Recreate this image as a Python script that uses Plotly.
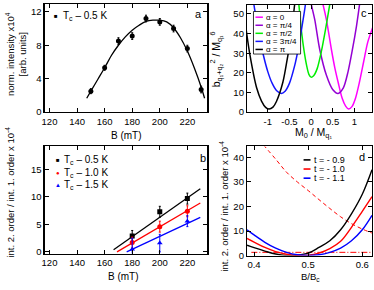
import plotly.graph_objects as go

W, H = 374, 290
FONT = "Liberation Sans, Arial, sans-serif"

# ---------------- data ----------------
# panel a
a_B = [150, 160, 170, 180, 190, 200, 210, 220, 230]
a_I = [2.5, 5.3, 8.5, 9.1, 11.2, 10.8, 10.0, 7.6, 2.7]
a_err = [0.3, 0.3, 0.4, 0.4, 0.4, 0.4, 0.4, 0.4, 0.4]
a_fit_B = [147, 150, 155, 160, 165, 170, 175, 180, 185, 190, 195, 200, 205, 210, 215, 220, 225, 230, 232.5]
a_fit_I = [1.65, 2.5, 3.9, 5.3, 6.8, 8.0, 9.0, 9.8, 10.4, 10.85, 11.0, 11.0, 10.8, 10.1, 8.9, 7.3, 5.3, 3.0, 1.65]

# panel b
b_B = [180, 200, 220]
b_05 = [2.9, 7.3, 9.7]
b_05_err = [1.0, 1.0, 1.0]
b_10 = [1.7, 4.6, 7.4]
b_10_err = [1.0, 1.0, 1.0]
b_15 = [0.5, 1.6, 5.6]
b_15_err = [2.0, 1.6, 1.0]
b_fit_B_05 = [166.5, 229.4]
b_fit_05 = [0.4, 11.5]
b_fit_B_10 = [169.0, 229.4]
b_fit_10 = [0.0, 8.9]
b_fit_B_15 = [176.0, 229.4]
b_fit_15 = [0.0, 6.3]
b_labels = ["T<sub>c</sub> \u2013 0.5 K", "T<sub>c</sub> \u2013 1.0 K", "T<sub>c</sub> \u2013 1.5 K"]

# panel c
c_labels = ["\u03b1 = 0", "\u03b1 = \u03c0/4", "\u03b1 = \u03c0/2", "\u03b1 = 3\u03c0/4", "\u03b1 = \u03c0"]
c0_x = [0.25, 0.28, 0.356, 0.47, 0.55, 0.625, 0.72, 0.8, 0.87, 0.95, 1.03, 1.12, 1.22, 1.31, 1.44]
c0_y = [57, 54.5, 47, 32, 22.5, 15.3, 7.0, 3.0, 1.5, 2.9, 7.2, 15.3, 26.0, 35.5, 44.0]
c1_x = [-0.02, 0.01, 0.087, 0.2, 0.356, 0.5, 0.625, 0.75, 0.855, 0.95, 1.05, 1.12, 1.15]
c1_y = [58, 54.5, 47, 32, 18.7, 11.5, 9.5, 12.5, 20.5, 31.0, 43.7, 54.5, 59]
c2_x = [-0.32, -0.28, -0.22, -0.16, -0.1, -0.05, 0.0, 0.06, 0.14, 0.24, 0.33, 0.43, 0.46]
c2_y = [63.5, 54.5, 41, 31, 23.5, 19.2, 17.8, 18.5, 22.0, 31, 41.5, 54.5, 58.5]
c3_x = [-1.36, -1.3, -1.2, -1.1, -1.0, -0.9, -0.8, -0.685, -0.6, -0.5, -0.38, -0.3, -0.2, -0.14, -0.1]
c3_y = [60.5, 51.9, 39.2, 28.8, 20.6, 14.7, 11.0, 9.5, 10.6, 14.6, 23.5, 31.7, 44.8, 53.2, 60.4]
c4_x = [-1.52, -1.49, -1.41, -1.26, -1.145, -1.05, -0.97, -0.88, -0.8, -0.65, -0.55, -0.45, -0.38, -0.35]
c4_y = [45.5, 40.3, 28.7, 12.5, 5.6, 2.4, 1.5, 2.5, 5.4, 15.3, 27, 40.5, 54.5, 58.5]

# panel d
d_labels = ["t = - 0.9", "t = - 1.0", "t = - 1.1"]
d_x = [0.387, 0.40, 0.42, 0.44, 0.46, 0.48, 0.50, 0.52, 0.54, 0.56, 0.58, 0.60, 0.618]
d_09 = [4.2, 3.2, 1.8, 0.6, 0.05, 0.2, 1.0, 3.3, 6.0, 10.5, 17.0, 25.0, 35.0]
d_10 = [7.0, 5.5, 3.3, 1.6, 0.5, 0.05, 0.1, 1.0, 2.8, 5.8, 11.5, 18.0, 24.0]
d_11 = [10.5, 8.4, 5.4, 3.0, 1.3, 0.3, 0.0, 0.3, 1.3, 3.0, 6.0, 10.5, 16.4]
d_dash_x = [0.417, 0.44, 0.46, 0.48, 0.50, 0.52, 0.54, 0.56, 0.58, 0.60, 0.62]
d_dash_y = [45.2, 39.3, 34.0, 30.0, 26.5, 22.8, 19.2, 15.8, 13.0, 10.8, 9.0]
d_dd_x = [0.395, 0.62]
d_dd_y = [1.3, 1.3]

# ---------------- styles ----------------
MAG, PUR, GRN, BLU, BLK, RED = "#ff00ff", "#9400d3", "#00ee00", "#1414ff", "#000000", "#ff0000"
BBLUE = "#0000ff"

def px(x):
    return x / W

def py(y):
    return 1 - y / H

fig = go.Figure()

# panel a
fig.add_trace(go.Scatter(x=a_fit_B, y=a_fit_I, mode="lines", line=dict(color=BLK, width=1.3, shape="spline"),
                         xaxis="x", yaxis="y", showlegend=False))
fig.add_trace(go.Scatter(x=a_B, y=a_I, mode="markers", marker=dict(color=BLK, size=5, symbol="circle"),
                         error_y=dict(type="data", array=a_err, color=BLK, thickness=1, width=1),
                         xaxis="x", yaxis="y", showlegend=False))

# panel b
for fx, fy, col in [(b_fit_B_05, b_fit_05, BLK), (b_fit_B_10, b_fit_10, RED), (b_fit_B_15, b_fit_15, BBLUE)]:
    fig.add_trace(go.Scatter(x=fx, y=fy, mode="lines", line=dict(color=col, width=1.3),
                             xaxis="x2", yaxis="y2", showlegend=False))
for yy, ee, col, sym in [(b_05, b_05_err, BLK, "square"), (b_10, b_10_err, RED, "circle"),
                         (b_15, b_15_err, BBLUE, "triangle-up")]:
    fig.add_trace(go.Scatter(x=b_B, y=yy, mode="markers", marker=dict(color=col, size=5, symbol=sym),
                             error_y=dict(type="data", array=ee, color=col, thickness=1, width=1),
                             xaxis="x2", yaxis="y2", showlegend=False))

# panel c
c_series = [(c0_x, c0_y, MAG), (c1_x, c1_y, PUR), (c2_x, c2_y, GRN), (c3_x, c3_y, BLU), (c4_x, c4_y, BLK)]
for cx, cy, col in c_series:
    fig.add_trace(go.Scatter(x=cx, y=cy, mode="lines", line=dict(color=col, width=1.5, shape="spline", smoothing=0.8),
                             xaxis="x3", yaxis="y3", showlegend=False))

# panel d
fig.add_trace(go.Scatter(x=d_dash_x, y=d_dash_y, mode="lines", line=dict(color=RED, width=1, dash="4px,3px", shape="spline"),
                         xaxis="x4", yaxis="y4", showlegend=False))
fig.add_trace(go.Scatter(x=d_dd_x, y=d_dd_y, mode="lines", line=dict(color=RED, width=1, dash="6px,2px,1px,2px"),
                         xaxis="x4", yaxis="y4", showlegend=False))
for yy, col in [(d_09, BLK), (d_10, RED), (d_11, BBLUE)]:
    fig.add_trace(go.Scatter(x=d_x, y=yy, mode="lines", line=dict(color=col, width=1.4, shape="spline"),
                             xaxis="x4", yaxis="y4", showlegend=False))

ax = dict(showline=True, linecolor="black", linewidth=1.2, mirror="ticks", ticks="inside", ticklen=4,
          tickwidth=1, tickcolor="black", showgrid=False, zeroline=False,
          tickfont=dict(family=FONT, size=9.5, color="black"))

fig.update_layout(
    width=W, height=H, margin=dict(l=0, r=0, t=0, b=0),
    paper_bgcolor="white", plot_bgcolor="white", showlegend=False,
    font=dict(family=FONT, size=9.5, color="black"),
    xaxis=dict(ax, domain=[px(42), px(206)], anchor="y", range=[116.5, 234.5], tickvals=[120, 140, 160, 180, 200, 220]),
    yaxis=dict(ax, domain=[py(114), py(4)], anchor="x", range=[0, 12.95], tickvals=[0, 4, 8, 12]),
    xaxis2=dict(ax, domain=[px(42), px(206)], anchor="y2", range=[116.5, 234.5], tickvals=[120, 140, 160, 180, 200, 220]),
    yaxis2=dict(ax, domain=[py(258), py(149)], anchor="x2", range=[-0.3, 19.2], tickvals=[0, 5, 10, 15]),
    xaxis3=dict(ax, domain=[px(246), px(372)], anchor="y3", range=[-1.48, 1.41], tickvals=[-1, -0.5, 0, 0.5, 1],
                ticktext=["-1", "-0.5", "0", "0.5", "1"]),
    yaxis3=dict(ax, domain=[py(114), py(5)], anchor="x3", range=[0, 54.6], tickvals=[0, 10, 20, 30, 40, 50]),
    xaxis4=dict(ax, domain=[px(246), px(372)], anchor="y4", range=[0.387, 0.618], tickvals=[0.4, 0.5, 0.6]),
    yaxis4=dict(ax, domain=[py(260), py(149)], anchor="x4", range=[0, 44.5], tickvals=[0, 10, 20, 30, 40]),
)

ann = []
shapes = []

def text(x, y, t, size=9.5, xa="center", ya="middle", angle=0, color="black"):
    ann.append(dict(x=px(x), y=py(y), xref="paper", yref="paper", text=t, showarrow=False,
                    xanchor=xa, yanchor=ya, textangle=angle, borderpad=0,
                    font=dict(family=FONT, size=size, color=color)))

# panel letters
text(197, 14, "a", 11)
text(202, 161, "b", 11)
text(364, 13, "c", 11)
text(362, 160, "d", 11)

# axis titles
text(124, 138, "B (mT)", 10)
text(121, 281, "B (mT)", 10)
text(313, 135, "M<sub>0</sub> / M<sub>q\u2081</sub>", 10.5)
text(310, 281.5, "B/B<sub>c</sub>", 9.5)
text(13, 55, "norm. intensity x10<sup>4</sup><br>[arb. units]", 9.5, angle=-90)
text(7, 195, "int. 2. order / int. 1. order x 10<sup>-4</sup>", 9.5, angle=-90)
text(215, 60, "b<sub>q\u2081+q\u2082</sub><sup>2</sup> / M<sub>q\u2081</sub><sup>6</sup>", 10.5, angle=-90)
text(223, 210, "int. 2. order / int. 1. order x 10<sup>-4</sup>", 9.5, angle=-90)

# legend a
text(53, 16, "\u25a0", 6)
text(59, 16, "T<sub>c</sub> \u2013 0.5 K", 10, xa="left")

# legend b
for i, (lab, col, sym) in enumerate(zip(b_labels, [BLK, RED, BBLUE], ["\u25a0", "\u25cf", "\u25b2"])):
    yy = 163.3 + 12.5 * i
    text(55, yy, sym, 6, color=col)
    text(60, yy, lab, 10, xa="left")

# legend c (box)
shapes.append(dict(type="rect", xref="paper", yref="paper", x0=px(252.5), x1=px(300), y0=py(55), y1=py(11.7),
                   line=dict(color="black", width=0.8), fillcolor="white", layer="above"))
for i, (lab, col) in enumerate(zip(c_labels, [MAG, PUR, GRN, BLU, BLK])):
    yy = 17.5 + 8.2 * i
    shapes.append(dict(type="line", xref="paper", yref="paper", x0=px(254.5), x1=px(262), y0=py(yy), y1=py(yy),
                       line=dict(color=col, width=1.5), layer="above"))
    text(264.5, yy, lab, 8, xa="left")

# legend d
for i, (lab, col) in enumerate(zip(d_labels, [BLK, RED, BBLUE])):
    yy = 162.7 + 9.3 * i
    shapes.append(dict(type="line", xref="paper", yref="paper", x0=px(303), x1=px(310), y0=py(yy), y1=py(yy),
                       line=dict(color=col, width=1.6), layer="above"))
    text(313, yy, lab, 9, xa="left")

fig.update_layout(annotations=ann, shapes=shapes)
fig.write_html("out.html", config={"displayModeBar": False, "staticPlot": True},
               post_script="document.body.style.margin='0px';document.body.style.overflow='hidden';")
